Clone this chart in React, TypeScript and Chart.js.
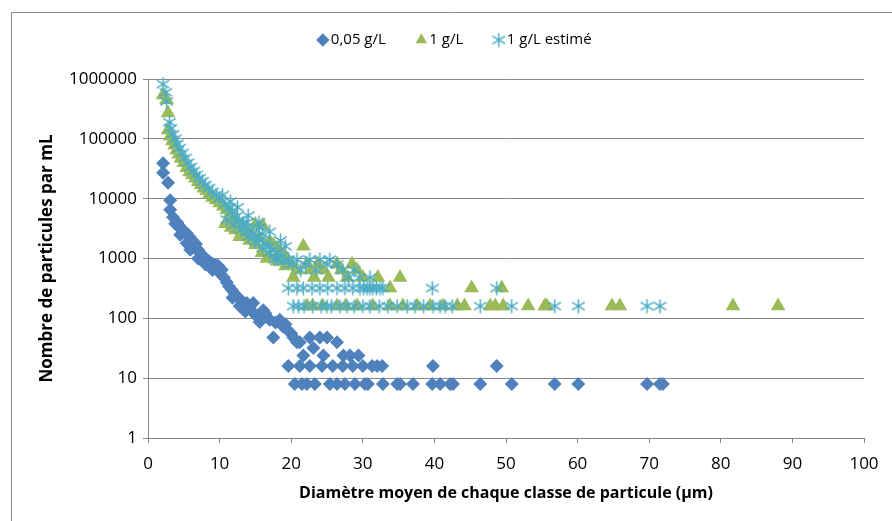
import React, { useEffect, useRef } from "react";
import { Chart, registerables } from "chart.js";

Chart.register(...registerables);

const SERIES_LABELS = ["0,05 g/L", "1 g/L", "1 g/L estimé"];
const SERIES_COLORS = ["#4F81BD", "#9BBB59", "#4BACC6"];
const Y_TICKS = [1, 10, 100, 1000, 10000, 100000, 1000000];
const X_TITLE = "Diamètre moyen de chaque classe de particule (µm)";
const Y_TITLE = "Nombre de particules par mL";

// 0,05 g/L : [diamètre µm, particules/mL]
const blueCurve: number[][] = [
  [2.1, 39000], [2.1, 27000], [2.8, 18500], [3.1, 9400], [3.1, 6500], [3.5, 4900],
  [3.8, 3800], [4.1, 4000], [4.4, 3500], [4.5, 2500], [4.7, 3000], [5.1, 2700],
  [5.4, 2650], [5.4, 1800], [5.8, 2300], [5.9, 1400], [6.2, 2000], [6.2, 1500],
  [6.7, 1750], [7.0, 1400], [7.0, 1000], [7.3, 1230], [7.7, 1100], [8.0, 800],
  [8.2, 950], [8.6, 880], [9.0, 820], [9.0, 640], [9.4, 780], [9.8, 760],
  [10.0, 570], [10.3, 650], [10.6, 480], [11.0, 400], [11.3, 340], [11.7, 300],
  [11.8, 220], [12.1, 260], [12.4, 230], [12.8, 210], [12.8, 160], [13.2, 190],
  [13.5, 170], [13.6, 130], [13.8, 180], [14.2, 150], [14.7, 125], [14.7, 180],
  [15.1, 110], [15.6, 87], [15.8, 110], [16.1, 137], [16.4, 120], [16.8, 100],
  [17.0, 95], [17.5, 48], [17.8, 85], [18.4, 95], [18.9, 72], [19.2, 80],
  [19.5, 64], [20.0, 56], [20.3, 48], [20.8, 40], [21.2, 40],
];
const blueTail: number[][] = [
  [22.6, 48], [24.0, 48], [25.0, 48], [26.4, 40], [23.1, 32], [21.7, 24], [24.5, 24],
  [27.3, 24], [28.2, 24], [29.4, 24],
  [19.6, 16], [21.2, 16], [22.6, 16], [24.3, 16], [25.8, 16], [27.2, 16], [28.6, 16],
  [30.0, 16], [31.3, 16], [32.0, 16], [32.7, 16], [39.8, 16], [48.7, 16],
  [20.5, 8], [21.5, 8], [22.2, 8], [23.3, 8], [25.4, 8], [26.4, 8], [27.5, 8], [28.9, 8],
  [30.3, 8], [30.7, 8], [32.8, 8], [34.8, 8], [35.2, 8], [37.0, 8], [39.7, 8], [40.8, 8],
  [42.2, 8], [42.6, 8], [46.4, 8], [50.8, 8], [56.8, 8], [60.1, 8], [69.7, 8], [71.5, 8], [71.9, 8],
];

// 1 g/L
const greenCurve: number[][] = [
  [2.1, 540000], [2.6, 450000], [2.8, 270000], [2.8, 140000], [3.1, 110000], [3.4, 92000],
  [3.7, 78000], [4.0, 65000], [4.3, 55000], [4.6, 47000], [5.0, 40000], [5.4, 33000],
  [5.8, 28000], [6.2, 25000], [6.6, 22000], [7.0, 19000], [7.4, 17000], [7.8, 15000],
  [8.2, 13500], [8.6, 12000], [9.0, 10500], [9.5, 9500], [10.0, 8500], [10.5, 7500],
  [10.8, 3800], [11.0, 6500], [11.5, 5700], [11.6, 3300], [12.0, 4900], [12.2, 3000],
  [12.4, 4300], [12.8, 2300], [13.0, 2600], [13.2, 3600], [13.6, 3100], [14.0, 2700],
  [14.2, 2000], [14.5, 2500], [15.0, 3700], [15.0, 1700], [15.5, 2200], [15.9, 1250],
  [16.0, 3600], [16.6, 1000], [17.0, 1900], [17.0, 1050], [17.5, 1700], [18.0, 1500],
  [18.0, 900], [18.5, 1300], [19.0, 1150], [19.2, 750], [19.5, 960], [20.0, 800],
  [20.3, 480], [20.8, 640], [21.7, 1600], [22.2, 800], [22.7, 640], [23.2, 480],
  [23.7, 800], [24.5, 640], [25.2, 480], [26.4, 800], [27.0, 640], [27.8, 480],
  [28.5, 800], [29.2, 640], [30.0, 480], [32.1, 480], [33.8, 320], [35.2, 480],
  [45.2, 320], [49.4, 320],
];
const greenTail: number[][] = [
  [22.2, 160], [23.0, 160], [24.4, 160], [26.4, 160], [27.6, 160], [29.2, 160], [31.4, 160],
  [33.8, 160], [35.6, 160], [37.6, 160], [39.4, 160], [41.2, 160], [43.2, 160], [44.2, 160],
  [47.8, 160], [48.5, 160], [49.6, 160], [53.1, 160], [55.4, 160], [55.7, 160], [64.8, 160],
  [65.9, 160], [81.7, 160], [88.0, 160],
];

// 1 g/L estimé
const cyanCurve: number[][] = [
  [2.1, 820000], [2.5, 600000], [2.6, 420000], [3.0, 190000], [3.2, 150000], [3.5, 120000],
  [3.8, 100000], [4.1, 83000], [4.4, 70000], [4.8, 58000], [5.2, 48000], [5.6, 40000],
  [6.0, 34000], [6.4, 29000], [6.8, 25000], [7.2, 22000], [7.6, 19500], [8.0, 17000],
  [8.5, 15000], [9.0, 13000], [9.5, 11500], [10.0, 10000], [10.4, 11500], [10.8, 8000],
  [11.0, 4500], [11.3, 7000], [11.5, 9000], [11.8, 6000], [12.0, 3600], [12.3, 5000],
  [12.5, 7200], [12.7, 4400], [13.0, 3000], [13.2, 3800], [13.6, 3300], [13.8, 4000],
  [14.0, 5200], [14.0, 2300], [14.1, 2900], [14.6, 2600], [15.0, 1900], [15.1, 2300],
  [15.5, 4000], [15.5, 3300], [15.6, 2000], [16.0, 2600], [16.0, 1500], [16.4, 1800],
  [16.9, 1600], [17.0, 2800], [17.0, 1250], [17.3, 1400], [17.7, 960], [18.0, 1000],
  [18.2, 1300], [18.5, 2000], [18.7, 1100], [19.0, 880], [19.2, 1600], [19.6, 960],
  [20.2, 800], [20.8, 960], [21.3, 640], [22.0, 800], [22.6, 960], [23.5, 640],
  [24.0, 960], [25.0, 800], [25.4, 960], [26.4, 800], [27.2, 640], [28.0, 480],
  [28.8, 640], [29.5, 480], [31.0, 480],
];
const cyanTail: number[][] = [
  [19.6, 320], [20.8, 320], [21.7, 320], [22.9, 320], [24.0, 320], [25.1, 320], [26.4, 320],
  [27.5, 320], [28.6, 320], [29.6, 320], [30.1, 320], [30.6, 320], [31.0, 320], [31.4, 320],
  [31.9, 320], [32.4, 320], [32.8, 320], [39.7, 320], [48.7, 320],
  [20.3, 160], [21.0, 160], [21.8, 160], [23.0, 160], [24.2, 160], [25.0, 160], [25.6, 160],
  [26.8, 160], [27.8, 160], [28.8, 160], [30.0, 160], [31.0, 160], [32.3, 160], [33.5, 160],
  [34.8, 160], [36.2, 160], [37.3, 160], [38.5, 160], [39.8, 160], [40.8, 160], [41.5, 160],
  [42.5, 160], [46.4, 160], [50.8, 160], [56.8, 160], [60.1, 160], [69.7, 160], [71.5, 160],
];

const FONT = "'Open Sans', 'DejaVu Sans', sans-serif";
const GRID = "#878787";

function toPoints(...lists: number[][][]) {
  const out: { x: number; y: number }[] = [];
  lists.forEach((l) => l.forEach(([x, y]) => out.push({ x, y })));
  return out;
}

function makeAsterisk(color: string) {
  const c = document.createElement("canvas");
  c.width = 15;
  c.height = 15;
  const g = c.getContext("2d")!;
  g.strokeStyle = color;
  g.lineWidth = 1.5;
  g.beginPath();
  g.moveTo(7.5, 0.5);
  g.lineTo(7.5, 14.5);
  g.moveTo(1.2, 3.6);
  g.lineTo(13.8, 11.4);
  g.moveTo(1.2, 11.4);
  g.lineTo(13.8, 3.6);
  g.stroke();
  return c;
}

const framePlugin = {
  id: "frame",
  beforeUpdate(chart: any) {
    const lg = chart.legend;
    if (lg && !lg.__patched) {
      const orig = lg.fit.bind(lg);
      lg.fit = function () {
        orig();
        this.height += 21.5;
      };
      lg.__patched = true;
    }
  },
  beforeDraw(chart: any) {
    const ctx = chart.ctx;
    ctx.save();
    ctx.strokeStyle = "#8a8a8a";
    ctx.lineWidth = 1;
    ctx.beginPath();
    ctx.moveTo(11.5, chart.height);
    ctx.lineTo(11.5, 12.5);
    ctx.lineTo(chart.width, 12.5);
    ctx.stroke();
    ctx.restore();
  },
};

export default function App() {
  const ref = useRef<HTMLCanvasElement>(null);
  useEffect(() => {
    if (!ref.current) return;
    const star = makeAsterisk(SERIES_COLORS[2]);
    const chart = new Chart(ref.current, {
      type: "scatter",
      data: {
        datasets: [
          {
            label: SERIES_LABELS[0],
            data: toPoints(blueCurve, blueTail),
            pointStyle: "rectRot",
            pointRadius: 7,
            pointHoverRadius: 7,
            backgroundColor: SERIES_COLORS[0],
            borderColor: SERIES_COLORS[0],
            borderWidth: 0,
            order: 3,
            clip: false,
          },
          {
            label: SERIES_LABELS[1],
            data: toPoints(greenCurve, greenTail),
            pointStyle: "triangle",
            pointRadius: 8.5,
            pointHoverRadius: 8.5,
            backgroundColor: SERIES_COLORS[1],
            borderColor: SERIES_COLORS[1],
            borderWidth: 0,
            order: 2,
            clip: false,
          },
          {
            label: SERIES_LABELS[2],
            data: toPoints(cyanCurve, cyanTail),
            pointStyle: star as any,
            pointRadius: 7,
            backgroundColor: SERIES_COLORS[2],
            borderColor: SERIES_COLORS[2],
            borderWidth: 0,
            order: 1,
            clip: false,
          },
        ] as any,
      },
      options: {
        animation: false,
        responsive: false,
        layout: { padding: { left: 22, right: 0, top: -2.5, bottom: 0 } },
        plugins: {
          legend: {
            position: "top",
            align: "center",
            labels: {
              usePointStyle: true,
              boxWidth: 1,
              boxHeight: 9.5,
              padding: 35,
              color: "#000",
              font: { family: FONT, size: 15 },
              sort: (a: any, b: any) => a.datasetIndex - b.datasetIndex,
            },
          },
          tooltip: { enabled: false },
        },
        scales: {
          x: {
            type: "linear",
            min: 0,
            max: 100,
            ticks: { stepSize: 10, padding: 11, color: "#000", font: { family: FONT, size: 17 } },
            grid: { drawOnChartArea: false, drawTicks: true, tickLength: 5, color: GRID },
            border: { color: GRID },
            title: {
              display: true,
              text: X_TITLE,
              color: "#000",
              font: { family: FONT, size: 16, weight: "bold" },
              padding: { top: 0, bottom: 18 },
            },
            afterFit: (s: any) => {
              s.height = 83;
              s.paddingRight = 28;
              s.paddingLeft = 0;
            },
          },
          y: {
            type: "logarithmic",
            min: 1,
            max: 1000000,
            afterBuildTicks: (s: any) => {
              s.ticks = Y_TICKS.map((v) => ({ value: v }));
            },
            ticks: {
              padding: 6,
              color: "#000",
              font: { family: FONT, size: 17 },
              callback: (v: any) => String(v),
            },
            grid: { color: GRID, tickLength: 5 },
            border: { color: GRID },
            title: {
              display: true,
              text: Y_TITLE,
              color: "#000",
              font: { family: FONT, size: 17, weight: "bold" },
              padding: { top: 15, bottom: 0 },
            },
            afterFit: (s: any) => {
              s.width = 126;
              s.paddingTop = 79;
            },
          },
        },
      } as any,
      plugins: [framePlugin],
    });
    return () => chart.destroy();
  }, []);

  return (
    <div style={{ position: "absolute", left: 0, top: 0, width: 892, height: 521, overflow: "hidden", background: "#fff" }}>
      <canvas ref={ref} width={892} height={521} style={{ display: "block" }} />
    </div>
  );
}
